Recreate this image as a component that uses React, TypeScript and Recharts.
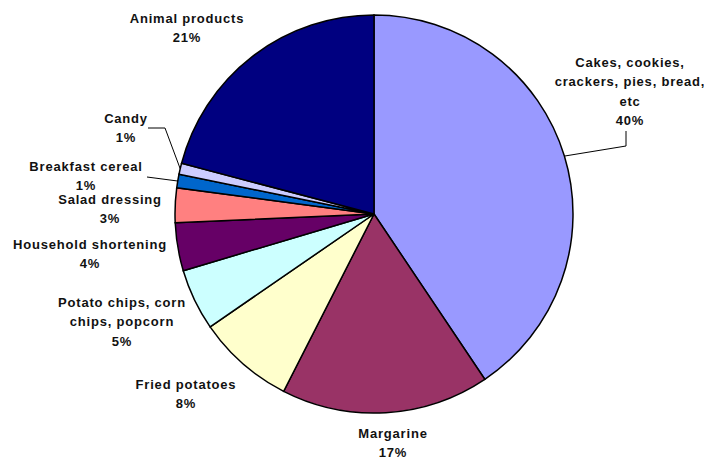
import React from "react";
import { PieChart, Pie, Cell } from "recharts";

const categories = [
  "Cakes, cookies, crackers, pies, bread, etc",
  "Margarine",
  "Fried potatoes",
  "Potato chips, corn chips, popcorn",
  "Household shortening",
  "Salad dressing",
  "Breakfast cereal",
  "Candy",
  "Animal products",
];
const shares = [40.6, 16.9, 7.9, 5.0, 3.9, 2.8, 1.1, 0.9, 20.9];
const pctLabels = ["40%", "17%", "8%", "5%", "4%", "3%", "1%", "1%", "21%"];
const colors = [
  "#9999ff",
  "#993366",
  "#ffffcc",
  "#ccffff",
  "#660066",
  "#ff8080",
  "#0066cc",
  "#ccccff",
  "#000080",
];

// label text lines and where Excel put them (center x, first line y)
const labelLines = [
  ["Cakes, cookies,", "crackers, pies, bread,", "etc", "40%"],
  ["Margarine"],
  ["Fried potatoes"],
  ["Potato chips, corn", "chips, popcorn"],
  ["Household shortening"],
  ["Salad dressing"],
  ["Breakfast cereal"],
  ["Candy"],
  ["Animal products"],
];
const labelLayout = [
  { x: 630, y: 62, leader: [[626, 146], [626, 131]] },
  { x: 393, y: 433 },
  { x: 186, y: 384 },
  { x: 122, y: 302 },
  { x: 90, y: 244 },
  { x: 110, y: 199 },
  { x: 86, y: 166, leader: [[147, 177]] },
  { x: 126, y: 118, leader: [[165, 128], [148, 128]] },
  { x: 187, y: 18 },
];

const data = categories.map((name, i) => ({ name, value: shares[i] }));
const RAD = Math.PI / 180;

function renderLabel(props: any) {
  const { cx, cy, midAngle, outerRadius, index } = props;
  const lay = labelLayout[index];
  const lines = labelLines[index].slice();
  if (index !== 0) lines.push(pctLabels[index]);
  let leader = null;
  if (lay.leader) {
    const ex = cx + outerRadius * Math.cos(-midAngle * RAD);
    const ey = cy + outerRadius * Math.sin(-midAngle * RAD);
    const pts = [[ex, ey], ...lay.leader].map((p) => p.join(",")).join(" ");
    leader = <polyline points={pts} fill="none" stroke="#000" strokeWidth={1} />;
  }
  return (
    <g key={`lbl-${index}`}>
      {leader}
      <text
        x={lay.x}
        y={lay.y + 4.5}
        textAnchor="middle"
        fontFamily="'Liberation Sans', Arial, sans-serif"
        fontWeight="bold"
        fontSize={13}
        letterSpacing={0.8}
        fill="#111"
      >
        {lines.map((l, j) => (
          <tspan key={j} x={lay.x} dy={j === 0 ? 0 : 19.5}>
            {l}
          </tspan>
        ))}
      </text>
    </g>
  );
}

export default function App() {
  return (
    <div style={{ position: "absolute", left: 0, top: 0, width: 704, height: 459, background: "#fff" }}>
      <PieChart width={704} height={459} margin={{ top: 0, right: 0, bottom: 0, left: 0 }}>
        <Pie
          data={data}
          dataKey="value"
          nameKey="name"
          cx={374}
          cy={214}
          outerRadius={199}
          startAngle={90}
          endAngle={-270}
          stroke="#000"
          strokeWidth={1.5}
          label={renderLabel}
          labelLine={false}
          isAnimationActive={false}
        >
          {data.map((d, i) => (
            <Cell key={d.name} fill={colors[i]} />
          ))}
        </Pie>
      </PieChart>
    </div>
  );
}
